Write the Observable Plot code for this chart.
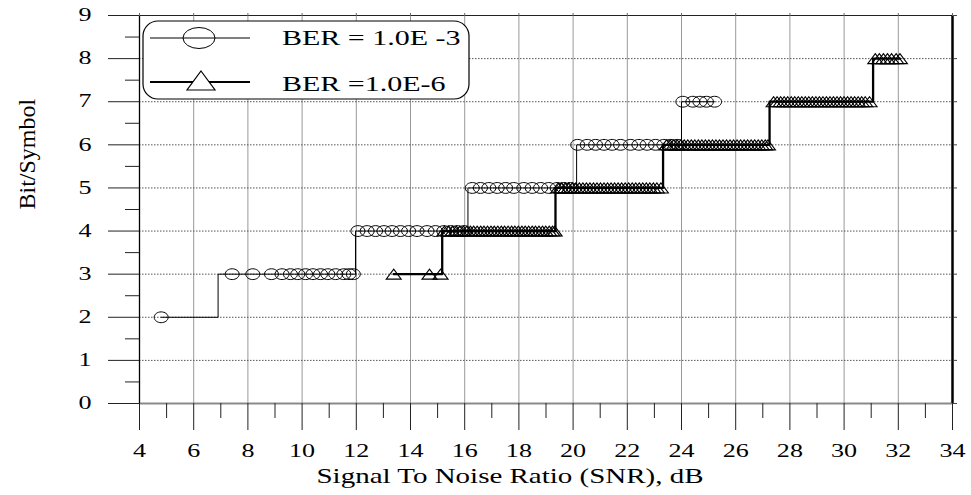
<!DOCTYPE html>
<html><head><meta charset="utf-8">
<script src="https://cdn.jsdelivr.net/npm/d3@7"></script>
<script src="https://cdn.jsdelivr.net/npm/@observablehq/plot@0.6"></script>
<style>
body{margin:0;background:#fff;}
#wrap{position:relative;width:971px;height:495px;}
#legend{position:absolute;left:0;top:0;pointer-events:none;}
</style></head><body><div id="wrap"></div>
<script>
// ---- axis definitions ----
const xDomain = [4, 34];
const yDomain = [0, 9];
const xTicks = [4, 6, 8, 10, 12, 14, 16, 18, 20, 22, 24, 26, 28, 30, 32, 34];
const xMinor = [5, 7, 9, 11, 13, 15, 17, 19, 21, 23, 25, 27, 29, 31, 33];
const xGrid = [6, 8, 10, 12, 14, 16, 18, 20, 22, 24, 26, 28, 30, 32];
const yTicks = [0, 1, 2, 3, 4, 5, 6, 7, 8, 9];
const yMinor = [0.5, 1.5, 2.5, 3.5, 4.5, 5.5, 6.5, 7.5, 8.5];
const yGrid = [1, 2, 3, 4, 5, 6, 7, 8, 9];
const xTitle = "Signal To Noise Ratio (SNR), dB";
const yTitle = "Bit/Symbol";
const legendLabels = ["BER = 1.0E -3", "BER =1.0E-6"];

// ---- BER = 1.0E-3 (circles) ----
const ber3StepX = [4.8, 6.9, 11.97, 16.12, 20.13, 24.0, 25.22];
const ber3StepY = [2, 3, 4, 5, 6, 7, 7];
const ber3Mark2 = [4.8];
const ber3Mark3 = [7.42, 8.18, 8.87, 9.26, 9.57, 9.84, 10.13, 10.40, 10.68, 10.95, 11.24, 11.54, 11.73, 11.89];
const ber3Mark4 = [12.06, 12.40, 12.71, 13.02, 13.32, 13.63, 13.93, 14.24, 14.61, 14.92, 15.23, 15.48, 15.72, 15.97];
const ber3Mark5 = [16.28, 16.58, 16.89, 17.20, 17.51, 17.81, 18.18, 18.49, 18.80, 19.10, 19.41, 19.65, 19.90];
const ber3Mark6 = [20.17, 20.52, 20.83, 21.14, 21.44, 21.75, 22.12, 22.43, 22.73, 23.04, 23.35, 23.60, 23.85];
const ber3Mark7 = [24.05, 24.42, 24.68, 24.92, 25.22];

// ---- BER = 1.0E-6 (triangles) ----
const ber6StepX = [13.38, 15.17, 19.35, 23.32, 27.25, 31.07, 32.06];
const ber6StepY = [3, 4, 5, 6, 7, 8, 8];
const ber6Mark3 = [13.38, 14.70, 15.11];
const ber6Mark4 = [15.25, 15.41, 15.55, 15.69, 15.82, 15.95, 16.08, 16.21, 16.33, 16.46, 16.59, 16.71, 16.84, 16.97, 17.09, 17.22, 17.35, 17.47, 17.60, 17.73, 17.85, 17.98, 18.11, 18.23, 18.36, 18.49, 18.61, 18.74, 18.87, 18.99, 19.12, 19.24, 19.32];
const ber6Mark5 = [19.45, 19.58, 19.71, 19.84, 19.97, 20.10, 20.23, 20.36, 20.49, 20.62, 20.75, 20.88, 21.01, 21.14, 21.27, 21.40, 21.53, 21.66, 21.79, 21.92, 22.05, 22.18, 22.31, 22.44, 22.57, 22.70, 22.83, 22.96, 23.09, 23.24];
const ber6Mark6 = [23.45, 23.58, 23.71, 23.84, 23.97, 24.10, 24.23, 24.36, 24.49, 24.62, 24.75, 24.88, 25.01, 25.14, 25.27, 25.40, 25.53, 25.66, 25.79, 25.92, 26.05, 26.18, 26.31, 26.44, 26.57, 26.70, 26.83, 26.96, 27.09, 27.19];
const ber6Mark7 = [27.40, 27.53, 27.66, 27.79, 27.92, 28.05, 28.18, 28.31, 28.44, 28.57, 28.70, 28.83, 28.96, 29.09, 29.22, 29.35, 29.48, 29.61, 29.74, 29.87, 30.00, 30.13, 30.26, 30.39, 30.52, 30.65, 30.78, 30.94];
const ber6Mark8 = [31.15, 31.30, 31.45, 31.60, 31.75, 31.92, 32.06];

// ---- build tables ----
const ber3Steps = ber3StepX.map((x, i) => ({x, y: ber3StepY[i]}));
const ber6Steps = ber6StepX.map((x, i) => ({x, y: ber6StepY[i]}));
const circles = [[2, ber3Mark2], [3, ber3Mark3], [4, ber3Mark4], [5, ber3Mark5], [6, ber3Mark6], [7, ber3Mark7]]
  .flatMap(([y, xs]) => xs.map(x => ({x, y})));
const triangles = [[3, ber6Mark3], [4, ber6Mark4], [5, ber6Mark5], [6, ber6Mark6], [7, ber6Mark7], [8, ber6Mark8]]
  .flatMap(([y, xs]) => xs.map(x => ({x, y})));

// custom symbols (flattened shapes as in the reference)
const ellipseSym = {draw(ctx) {
  const rx = 7, ry = 5.4, k = 0.5523;
  ctx.moveTo(rx, 0);
  ctx.bezierCurveTo(rx, ry * k, rx * k, ry, 0, ry);
  ctx.bezierCurveTo(-rx * k, ry, -rx, ry * k, -rx, 0);
  ctx.bezierCurveTo(-rx, -ry * k, -rx * k, -ry, 0, -ry);
  ctx.bezierCurveTo(rx * k, -ry, rx, -ry * k, rx, 0);
  ctx.closePath();
}};
const triSym = {draw(ctx) {
  ctx.moveTo(0, -5);
  ctx.lineTo(7.5, 5);
  ctx.lineTo(-7.5, 5);
  ctx.closePath();
}};

const blank = () => "";

const chart = Plot.plot({
  width: 971,
  height: 495,
  marginTop: 15,
  marginBottom: 92,
  marginLeft: 139,
  marginRight: 19,
  x: {domain: xDomain},
  y: {domain: yDomain},
  style: {fontFamily: "'Liberation Serif', 'Times New Roman', serif", fontSize: "18px", color: "black", background: "white"},
  marks: [
    Plot.gridX(xGrid, {stroke: "#999", strokeOpacity: 1, strokeWidth: 1}),
    Plot.gridY(yGrid, {stroke: "#555", strokeOpacity: 1, strokeWidth: 1, strokeDasharray: "1.5,1.5"}),
    Plot.frame({stroke: "#222", strokeWidth: 1}),
    Plot.ruleY([yDomain[0]], {stroke: "#8a8a8a", strokeWidth: 2}),
    Plot.ruleX([xDomain[1]], {stroke: "black", strokeWidth: 2.5}),
    Plot.ruleX([xDomain[0]], {stroke: "black", strokeWidth: 1.3}),
    Plot.axisY(yTicks, {tickSize: 31, tickPadding: 17, label: null, stroke: "#222", fontSize: 18}),
    Plot.axisY(yMinor, {tickSize: 14, tickFormat: blank, label: null, stroke: "#222"}),
    Plot.axisY(yTicks, {anchor: "right", tickSize: 4, tickFormat: blank, label: null, stroke: "#444"}),
    Plot.axisX(xTicks, {tickSize: 27, tickPadding: 14, label: null, stroke: "#222", fontSize: 18}),
    Plot.axisX(xMinor, {tickSize: 15, tickFormat: blank, label: null, stroke: "#222"}),
    Plot.axisX(xTicks, {anchor: "top", tickSize: 3, tickFormat: blank, label: null, stroke: "#666"}),
    Plot.line(ber3Steps, {x: "x", y: "y", curve: "step-after", stroke: "black", strokeWidth: 1}),
    Plot.line(ber6Steps, {x: "x", y: "y", curve: "step-after", stroke: "black", strokeWidth: 2.3}),
    Plot.dot(circles, {x: "x", y: "y", symbol: ellipseSym, stroke: "black", strokeWidth: 1, fill: "none"}),
    Plot.dot(triangles, {x: "x", y: "y", symbol: triSym, stroke: "black", strokeWidth: 1.1, fill: "none"}),
    Plot.text([xTitle], {text: d => d, frameAnchor: "bottom", dx: -36, dy: 79, fontSize: 20, fill: "black"}),
    Plot.text([yTitle], {text: d => d, frameAnchor: "left", dx: -112, rotate: -90, fontSize: 24, fill: "black"})
  ]
});

// horizontally stretched type, as in the reference
chart.querySelectorAll("text").forEach(t => {
  if (t.textContent === yTitle) return;
  const tr = t.getAttribute("transform") || "";
  t.setAttribute("transform", tr + " scale(1.45,1)");
});

const wrap = document.getElementById("wrap");
wrap.appendChild(chart);

// legend overlay
const ns = "http://www.w3.org/2000/svg";
const leg = document.createElementNS(ns, "svg");
leg.setAttribute("id", "legend");
leg.setAttribute("width", 971);
leg.setAttribute("height", 495);
leg.innerHTML = `
  <rect x="143" y="21" width="326" height="78" rx="15" ry="15" fill="white" stroke="black" stroke-width="1.2"/>
  <line x1="150" y1="38" x2="250" y2="38" stroke="black" stroke-width="1"/>
  <ellipse cx="199" cy="38" rx="16" ry="10.5" fill="none" stroke="black" stroke-width="1"/>
  <line x1="150" y1="82" x2="250" y2="82" stroke="black" stroke-width="2"/>
  <path d="M201,71 L215,90 L187,90 Z" fill="white" stroke="black" stroke-width="1.2"/>
`;
legendLabels.forEach((s, i) => {
  const t = document.createElementNS(ns, "text");
  t.setAttribute("transform", `translate(282,${[45, 91][i]}) scale(1.5,1)`);
  t.setAttribute("font-family", "'Liberation Serif', 'Times New Roman', serif");
  t.setAttribute("font-size", "20");
  t.setAttribute("fill", "black");
  t.textContent = s;
  leg.appendChild(t);
});
wrap.appendChild(leg);
</script>
</body></html>
